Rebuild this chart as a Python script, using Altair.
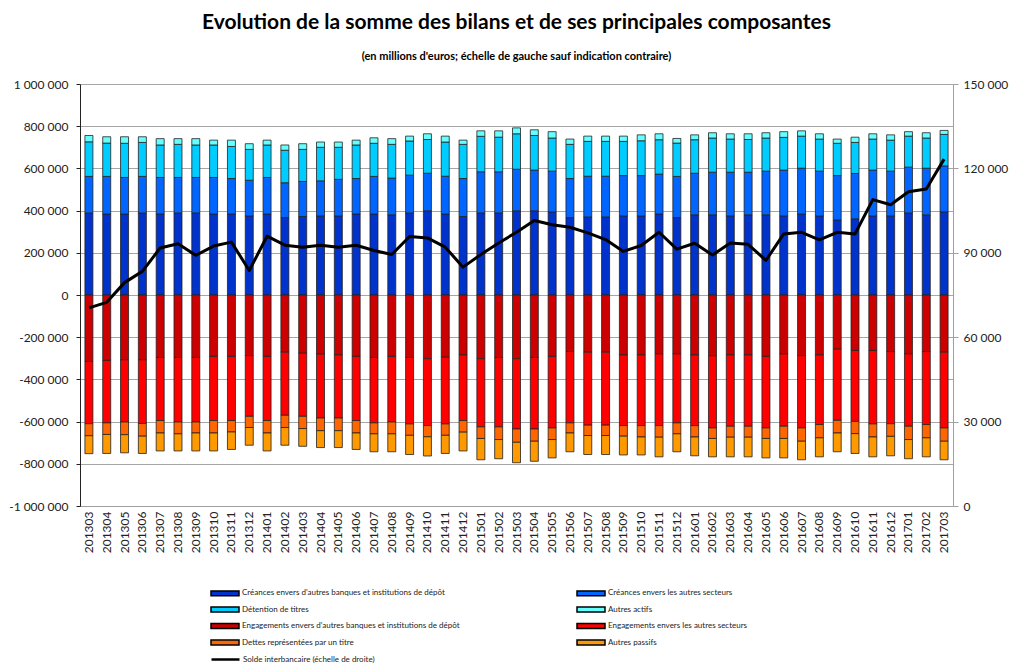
import altair as alt
import pandas as pd

months = ["201303","201304","201305","201306","201307","201308","201309","201310","201311","201312",
          "201401","201402","201403","201404","201405","201406","201407","201408","201409","201410","201411","201412",
          "201501","201502","201503","201504","201505","201506","201507","201508","201509","201510","201511","201512",
          "201601","201602","201603","201604","201605","201606","201607","201608","201609","201610","201611","201612",
          "201701","201702","201703"]

creances_banques = [389000,384000,384000,389000,384000,389000,389000,384000,384000,375000,
                    384000,367000,372000,375000,375000,384000,384000,380000,389000,399000,384000,372000,
                    389000,389000,399000,399000,394000,367000,370000,370000,375000,375000,384000,367000,
                    380000,380000,375000,380000,380000,375000,384000,375000,356000,361000,375000,375000,
                    389000,380000,394000]
creances_autres = [173000,178000,173000,173000,173000,168000,168000,173000,168000,169000,
                   173000,165000,166000,166000,173000,168000,178000,174000,179000,178000,179000,180000,
                   195000,195000,197000,193000,193000,185000,193000,193000,191000,191000,189000,195000,
                   197000,202000,207000,202000,207000,217000,217000,212000,210000,215000,217000,212000,
                   217000,221000,218000]
detention_titres = [164000,158000,162000,161000,154000,157000,154000,154000,152000,146000,
                    154000,154000,152000,159000,152000,159000,157000,160000,162000,160000,162000,162000,
                    168000,164000,168000,164000,157000,162000,165000,165000,162000,165000,163000,158000,
                    159000,162000,157000,155000,157000,155000,152000,152000,153000,147000,147000,147000,
                    147000,143000,149000]
autres_actifs = [30000,30000,31000,27000,30000,27000,30000,23000,30000,27000,
                 23000,25000,27000,25000,25000,23000,26000,27000,23000,27000,28000,20000,
                 26000,30000,28000,27000,30000,25000,25000,25000,25000,28000,28000,22000,
                 23000,25000,25000,27000,25000,27000,25000,25000,20000,25000,25000,25000,
                 21000,25000,19000]
engagements_banques = [315000,310000,307000,307000,296000,296000,296000,291000,291000,287000,
                       291000,271000,276000,280000,284000,291000,296000,291000,296000,302000,295000,284000,
                       302000,296000,302000,296000,291000,268000,271000,271000,284000,284000,279000,279000,
                       284000,288000,284000,284000,291000,279000,287000,284000,257000,263000,263000,268000,
                       279000,268000,271000]
engagements_autres = [295000,296000,295000,302000,299000,306000,306000,304000,304000,288000,
                      304000,299000,299000,303000,299000,304000,310000,311000,315000,317000,316000,311000,
                      323000,329000,333000,339000,339000,338000,346000,346000,335000,335000,340000,327000,
                      335000,342000,338000,338000,339000,343000,343000,330000,337000,336000,348000,342000,
                      343000,346000,359000]
dettes_titres = [57000,55000,60000,60000,59000,56000,52000,59000,54000,53000,
                 59000,58000,58000,60000,60000,59000,52000,56000,54000,53000,54000,55000,
                 55000,60000,63000,58000,55000,48000,49000,49000,50000,54000,55000,52000,
                 54000,50000,52000,52000,50000,58000,63000,63000,60000,58000,62000,60000,
                 63000,63000,63000]
autres_passifs = [85000,90000,86000,82000,85000,81000,85000,85000,83000,84000,
                  85000,84000,84000,80000,80000,78000,85000,85000,91000,91000,86000,89000,
                  101000,91000,97000,95000,87000,89000,90000,90000,89000,85000,93000,85000,
                  89000,87000,93000,93000,92000,92000,88000,90000,89000,94000,94000,92000,
                  91000,90000,88000]
solde_interbancaire = [70400,72400,79400,83400,91700,93200,89100,92400,93800,83700,
                       95900,92700,92000,92700,92000,92700,90800,89400,95800,95300,92000,84900,
                       89400,93500,97300,101500,100000,99100,97100,94700,90500,92600,97300,91300,
                       93400,89200,93500,93000,87300,96700,97300,94600,97300,96700,108900,107100,
                       111700,112700,123300]

series_names = ["Créances envers d'autres banques et institutions de dépôt",
                "Créances envers les autres secteurs",
                "Détention de titres",
                "Autres actifs",
                "Engagements envers d'autres banques et institutions de dépôt",
                "Engagements envers les autres secteurs",
                "Dettes représentées par un titre",
                "Autres passifs"]
series_colors = ["#0033CC", "#0066FF", "#00CCFF", "#66FFFF",
                 "#CC0000", "#FF0000", "#FF6600", "#FF9900"]
line_name = "Solde interbancaire (échelle de droite)"

series_values = [creances_banques, creances_autres, detention_titres, autres_actifs,
                 engagements_banques, engagements_autres, dettes_titres, autres_passifs]
series_sign = [1, 1, 1, 1, -1, -1, -1, -1]

rows = []
for k, (name, vals, sgn) in enumerate(zip(series_names, series_values, series_sign)):
    for m, v in zip(months, vals):
        rows.append({"mois": m, "serie": name, "valeur": sgn * v, "ordre": k})
df = pd.DataFrame(rows)
line_df = pd.DataFrame({"mois": months, "solde": solde_interbancaire, "lib": line_name})

# legend is laid out column by column: left column first, then right column
legend_idx = [0, 2, 4, 6, 1, 3, 5, 7]
legend_domain = [series_names[i] for i in legend_idx]
legend_range = [series_colors[i] for i in legend_idx]

FONT = "Lato"
LBL = "#222222"
fmt = "replace(replace(format(datum.value, ','), regexp(',', 'g'), ' '), '\u2212', '-')"

x_enc = alt.X("mois:N", sort=months, title=None,
              scale=alt.Scale(paddingInner=0, paddingOuter=0),
              axis=alt.Axis(labelAngle=270, labelFont=FONT, labelFontSize=12, labelColor=LBL,
                            ticks=False, domainColor="#a0a0a0", labelPadding=5))

bars = alt.Chart(df).mark_bar(size=8, stroke="#222222", strokeWidth=0.8).encode(
    x=x_enc,
    y=alt.Y("valeur:Q", stack="zero", title=None,
            scale=alt.Scale(domain=[-1000000, 1000000], nice=False),
            axis=alt.Axis(values=list(range(-1000000, 1000001, 200000)), labelExpr=fmt,
                          grid=True, gridColor="#a6a6a6", gridWidth=1,
                          domainColor="#222222", tickColor="#222222", tickSize=4,
                          labelFont=FONT, labelFontSize=12, labelColor=LBL, labelPadding=8)),
    color=alt.Color("serie:N", scale=alt.Scale(domain=legend_domain, range=legend_range),
                    legend=alt.Legend(title=None, orient="none", legendX=140, legendY=504,
                                      columns=2, columnPadding=114, rowPadding=4.5, padding=0,
                                      symbolType="M-3.5,-0.6L3.5,-0.6L3.5,0.6L-3.5,0.6Z",
                                      symbolSize=64, symbolStrokeColor="black",
                                      symbolStrokeWidth=1.5, symbolOpacity=1,
                                      labelFont=FONT, labelFontSize=8, labelColor=LBL,
                                      labelOffset=12, labelLimit=400)),
    order=alt.Order("ordre:Q", sort="ascending"),
)

line = alt.Chart(line_df).mark_line(strokeWidth=3, strokeJoin="round").encode(
    x=x_enc,
    y=alt.Y("solde:Q", title=None,
            scale=alt.Scale(domain=[0, 150000], nice=False),
            axis=alt.Axis(orient="right", values=list(range(0, 150001, 30000)), labelExpr=fmt,
                          grid=False, domainColor="#a0a0a0", tickColor="#a0a0a0", tickSize=5,
                          labelFont=FONT, labelFontSize=12, labelColor=LBL, labelPadding=5)),
    stroke=alt.Stroke("lib:N", scale=alt.Scale(domain=[line_name], range=["black"]),
                      legend=alt.Legend(title=None, orient="none", legendX=140, legendY=570,
                                        padding=0, symbolType="M-3.5,0L3.5,0", symbolSize=64,
                                        symbolStrokeWidth=2.5, symbolFillColor="transparent",
                                        labelFont=FONT, labelFontSize=8, labelColor=LBL,
                                        labelOffset=12, labelLimit=400)),
)

chart = alt.layer(bars, line).resolve_scale(y="independent").properties(
    width=873, height=422,
    title=alt.TitleParams(
        text="Evolution de la somme des bilans et de ses principales composantes",
        subtitle="(en millions d'euros; échelle de gauche sauf indication contraire)",
        anchor="middle", font=FONT, fontSize=21, fontWeight="bold", color="black",
        subtitleFont=FONT, subtitleFontSize=11, subtitleFontWeight="bold",
        subtitleColor="black", subtitlePadding=18, offset=16),
    autosize=alt.AutoSizeParams(type="none"),
    padding={"left": 72, "top": 76, "right": 59, "bottom": 160},
).configure_view(stroke=None)

chart.save("out.html", embed_options={"renderer": "svg", "actions": False})
